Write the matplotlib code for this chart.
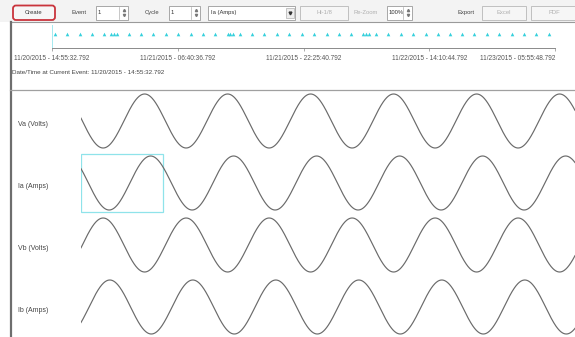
import numpy as np
import matplotlib.pyplot as plt
from matplotlib.patches import Rectangle, FancyBboxPatch

plt.rcParams['font.family'] = ['Liberation Sans', 'DejaVu Sans']

W, H = 575, 337

# waveform channels: label, peak value, phase angle (deg) at the event trigger
channels = ["Va (Volts)", "Ia (Amps)", "Vb (Volts)", "Ib (Amps)"]
peaks = [169.7, 12.4, 169.7, 12.4]
angles = [84, 58, -96, -125]
freq_hz = 60.0
window_ms = 99.2

# event log timeline (hours after first event)
event_hours = [0.4, 1.9, 3.5, 5.0, 6.5, 7.4, 7.8, 8.1, 9.6, 11.2, 12.7, 14.3,
               15.8, 17.4, 18.9, 20.4, 22.0, 22.3, 22.7, 23.6, 25.1, 26.6,
               28.2, 29.7, 31.3, 32.8, 34.4, 35.9, 37.4, 39.0, 39.3, 39.7,
               40.6, 42.1, 43.7, 45.2, 46.8, 48.3, 49.8, 51.4, 52.9, 54.5,
               56.0, 57.6, 59.1, 60.6, 62.2]
tick_hours = [0, 15.7511, 31.5022, 47.2533, 63.0044]
tick_labels = ["11/20/2015 - 14:55:32.792", "11/21/2015 - 06:40:36.792",
               "11/21/2015 - 22:25:40.792", "11/22/2015 - 14:10:44.792",
               "11/23/2015 - 05:55:48.792"]
current_event = "11/20/2015 - 14:55:32.792"

fig = plt.figure(figsize=(W / 100, H / 100), dpi=100)
fig.patch.set_facecolor('white')


def px_axes(x0, y0, x1, y1):
    ax = fig.add_axes([x0 / W, 1 - y1 / H, (x1 - x0) / W, (y1 - y0) / H])
    ax.patch.set_alpha(0)
    return ax


# background layer for the window chrome
bg = fig.add_axes([0, 0, 1, 1])
bg.set_xlim(0, W)
bg.set_ylim(H, 0)
bg.axis('off')

bg.add_patch(Rectangle((0, 0), W, 22, fc='#f3f3f3', ec='none'))

small = dict(fontsize=4.2, va='center')


def button(x0, x1, label, enabled=False):
    bg.add_patch(Rectangle((x0, 6), x1 - x0, 13.5, fc='#f6f6f6',
                           ec='#b8b8b8', lw=0.6))
    bg.text((x0 + x1) / 2, 12.8, label, ha='center',
            color='#333333' if enabled else '#b0b0b0', **small)


def spinbox(x0, x1, value):
    bg.add_patch(Rectangle((x0, 6), x1 - x0, 13.5, fc='white',
                           ec='#9a9a9a', lw=0.6))
    bg.text(x0 + 2, 12.8, value, ha='left', color='#333333', **small)
    bg.plot([x1 - 9, x1 - 9], [7, 18.5], color='#b0b0b0', lw=0.5)
    bg.plot([x1 - 4.5], [10.3], marker='^', ms=1.6, color='#777777')
    bg.plot([x1 - 4.5], [15.3], marker='v', ms=1.6, color='#777777')


create = FancyBboxPatch((13, 5.5), 42, 14.5,
                        boxstyle="round,pad=0,rounding_size=3",
                        fc='#f6f6f6', ec='#c9343c', lw=1.3)
bg.add_patch(create)
bg.text(34, 12.8, "Create", ha='center', color='#333333', **small)

bg.text(72, 12.8, "Event", ha='left', color='#444444', **small)
spinbox(96, 128, "1")
bg.text(145, 12.8, "Cycle", ha='left', color='#444444', **small)
spinbox(169, 200, "1")

bg.add_patch(Rectangle((208, 6), 87, 13.5, fc='white', ec='#9a9a9a', lw=0.6))
bg.text(211, 12.8, "Ia (Amps)", ha='left', color='#333333', **small)
bg.add_patch(Rectangle((286, 7.5), 8, 10.5, fc='#eeeeee', ec='#b0b0b0', lw=0.5))
bg.plot([290], [12.8], marker='v', ms=2, color='#333333')

button(300, 348, "Hi-1/8")
bg.text(353, 12.8, "Re-Zoom", ha='left', color='#b0b0b0', **small)
spinbox(387, 412, "100%")
bg.text(458, 12.8, "Export", ha='left', color='#444444', **small)
button(482, 526, "Excel")
button(531, 577, "PDF")

# panel borders
bg.plot([10, W], [22, 22], color='#9a9a9a', lw=0.8)
bg.plot([10.5, 10.5], [22, H], color='#6e6e6e', lw=1.6)
bg.plot([10, W], [90, 90], color='#a0a0a0', lw=0.9)

bg.text(12, 73, "Date/Time at Current Event: " + current_event, ha='left',
        color='#444444', fontsize=4.5, va='center')

# event timeline
tl = px_axes(52, 25, 555, 48)
tl.plot(event_hours, [0.6] * len(event_hours), ls='none', marker='^', ms=2.6,
        color='#35d0dc', mew=0)
tl.set_xlim(0, 63)
tl.set_ylim(0, 1)
tl.spines[['top', 'right']].set_visible(False)
tl.spines['left'].set_color('#a5e9ef')
tl.spines['left'].set_linewidth(0.7)
tl.spines['bottom'].set_color('#8a8a8a')
tl.spines['bottom'].set_linewidth(0.7)
tl.set_yticks([])
tl.set_xticks(tick_hours)
tl.set_xticklabels(tick_labels, fontsize=4.7, color='#555555')
tl.tick_params(axis='x', length=2, width=0.5, color='#8a8a8a', pad=3)
# keep the last date inside the window edge
tl.get_xticklabels()[-1].set_horizontalalignment('right')
tl.get_xticklabels()[-1].set_x(tick_hours[-1] + 2.4)

# waveform rows
t = np.linspace(0, window_ms, 2000)
row_top = 90
row_h = 62
for i, (name, pk, ang) in enumerate(zip(channels, peaks, angles)):
    y0 = row_top + i * row_h
    ax = px_axes(81, y0, W, min(y0 + row_h, H + 1))
    wave = pk * np.cos(2 * np.pi * freq_hz * t / 1000 + np.radians(ang))
    ax.plot(t, wave, color='#6a6a6a', lw=0.85)
    ax.set_xlim(0, window_ms)
    ax.set_ylim(-1.148 * pk, 1.148 * pk)
    ax.axis('off')
    if name == "Ia (Amps)":
        ax.add_patch(Rectangle((0, -1.07 * pk), 16.5, 2.14 * pk, fill=False,
                               ec='#8fe3ea', lw=0.9))
    bg.text(18, y0 + 35, name, ha='left', va='center', fontsize=5,
            color='#444444')

fig.savefig("out.png", dpi=100)
